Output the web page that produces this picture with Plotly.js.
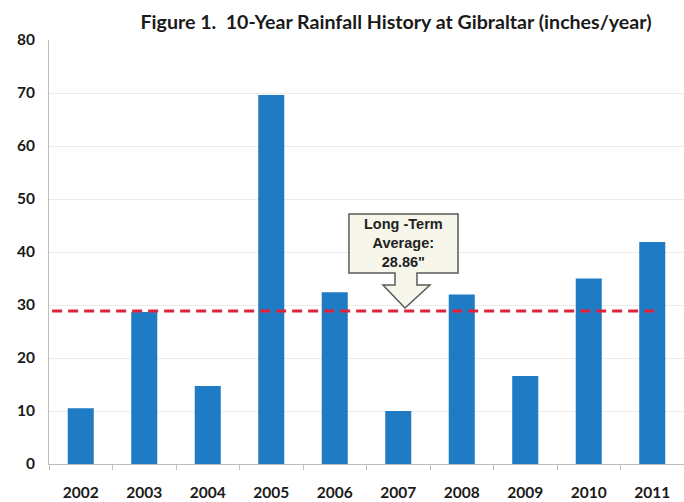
<!DOCTYPE html>
<html>
<head>
<meta charset="utf-8">
<script src="https://cdn.plot.ly/plotly-3.0.1.min.js"></script>
<style>html,body{margin:0;padding:0;background:#fff;}#chart{width:684px;height:502px;}</style>
</head>
<body>
<div id="chart"></div>
<script>
const years = ["2002","2003","2004","2005","2006","2007","2008","2009","2010","2011"];
const rainfall = [10.5, 28.7, 14.7, 69.6, 32.4, 10.0, 32.0, 16.6, 35.0, 41.9];
const longTermAverage = 28.86;
const yTicks = [0,10,20,30,40,50,60,70,80];

const lbl = {family: "Lato, 'Open Sans', sans-serif", size: 15.5, color: "#1a1a1a", weight: 700};

const data = [{
  type: "bar",
  x: years,
  y: rainfall,
  marker: {color: "#1f7cc4"},
  width: 0.41,
  hoverinfo: "x+y"
}];

const layout = {
  width: 684, height: 502,
  margin: {l: 49, r: 0, t: 40, b: 38},
  paper_bgcolor: "#ffffff",
  plot_bgcolor: "#ffffff",
  showlegend: false,
  title: {
    text: "<b>Figure 1.  10-Year Rainfall History at Gibraltar (inches/year)</b>",
    font: {family: "Lato, 'Open Sans', sans-serif", size: 19.6, color: "#1a1a1a"},
    x: 0.579, xanchor: "center", xref: "container",
    y: 0.956, yanchor: "middle", yref: "container"
  },
  xaxis: {
    type: "category",
    tickson: "boundaries",
    ticks: "outside", ticklen: 5, tickcolor: "#bdbdbd",
    showgrid: false,
    showline: true, linecolor: "#bdbdbd", linewidth: 1,
    tickfont: lbl,
    ticklabelstandoff: 14,
    range: [-0.5, 9.5]
  },
  yaxis: {
    range: [0, 80],
    tickvals: yTicks,
    ticktext: yTicks.map(String),
    showgrid: true, gridcolor: "#ececec", gridwidth: 1,
    showline: true, linecolor: "#bdbdbd", linewidth: 1,
    zeroline: false,
    ticks: "",
    tickfont: lbl,
    ticklabelstandoff: 10
  },
  shapes: [
    {
      type: "line", xref: "paper", yref: "y",
      x0: 0.005, x1: 0.957, y0: longTermAverage, y1: longTermAverage,
      line: {color: "#e3203a", width: 3, dash: "10px,6px"}
    },
    {
      type: "path", xref: "paper", yref: "paper",
      path: "M 0.4724,0.5896 L 0.6441,0.5896 L 0.6441,0.4505 L 0.5795,0.4505 L 0.5795,0.4222 L 0.6000,0.4222 L 0.5606,0.3679 L 0.5260,0.4222 L 0.5449,0.4222 L 0.5449,0.4505 L 0.4724,0.4505 Z",
      fillcolor: "#f6f6ea",
      line: {color: "#5a5a5a", width: 1.5}
    }
  ],
  annotations: [
    {
      xref: "paper", yref: "paper",
      x: 0.5583, y: 0.5215, xanchor: "center", yanchor: "middle",
      text: "<b>Long -Term<br>Average:<br>" + longTermAverage.toFixed(2) + "\"</b>",
      showarrow: false,
      align: "center",
      font: {family: "'Liberation Sans', Arial, sans-serif", size: 14.5, color: "#222222"}
    }
  ]
};

Plotly.newPlot("chart", data, layout, {displayModeBar: false, staticPlot: true});
</script>
</body>
</html>
